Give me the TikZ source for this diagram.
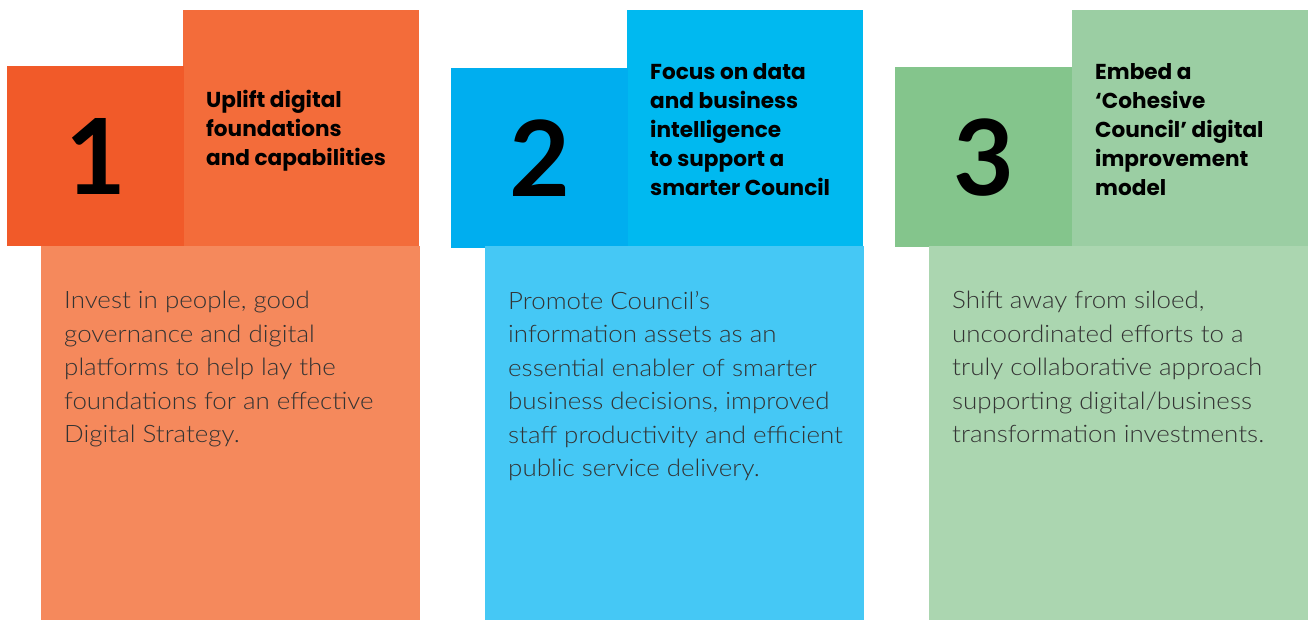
\documentclass[tikz,border=0pt]{standalone}
\usepackage{fontspec}
\setmainfont{Lato}
\newfontfamily\headfont{Poppins}
\newfontfamily\bodyfont{Lato Light}[FakeStretch=1.08]
\usetikzlibrary{positioning}

\definecolor{orangeNum}{HTML}{F15A29}
\definecolor{orangeHead}{HTML}{F36C3A}
\definecolor{orangeBody}{HTML}{F5895C}
\definecolor{blueNum}{HTML}{00AEEF}
\definecolor{blueHead}{HTML}{00B9F0}
\definecolor{blueBody}{HTML}{45C8F5}
\definecolor{greenNum}{HTML}{84C58C}
\definecolor{greenHead}{HTML}{9BCEA3}
\definecolor{greenBody}{HTML}{ABD6B0}
\definecolor{bodyText}{HTML}{333333}

\begin{document}
\begin{tikzpicture}[
            x=1pt, y=-1pt,
            numbox/.style={rectangle, anchor=north west, inner sep=0pt, minimum width=177pt, minimum height=180pt, font=\fontsize{105}{105}\selectfont\bfseries},
            headbox/.style={rectangle, anchor=north west, inner sep=0pt, minimum width=236pt, minimum height=236pt},
            bodybox/.style={rectangle, anchor=north west, inner sep=0pt, minimum width=379pt, minimum height=374pt},
            headtext/.style={anchor=west, inner sep=0pt, align=left, font=\headfont\fontsize{21.6}{29}\selectfont\bfseries},
            bodytext/.style={anchor=north west, inner sep=0pt, align=left, text=bodyText, font=\bodyfont\fontsize{24}{33.5}\selectfont}
        ]
        \useasboundingbox (0,0) rectangle (1308,620);
        % panel 1
        \node[headbox, fill=orangeHead] (head1) at (183,10) {};
        \node[numbox, fill=orangeNum] (num1) at (7,66) {1};
        \node[bodybox, fill=orangeBody] (body1) at (41,246) {};
        \node[headtext] (title1) at ([xshift=23pt, yshift=-3pt]head1.west) {Uplift digital\\foundations\\and capabilities};
        \node[bodytext] (text1) at ([xshift=23pt, yshift=-45pt]body1.north west) {Invest in people, good\\governance and digital\\platforms to help lay the\\foundations for an effective\\Digital Strategy.};
        % panel 2
        \node[headbox, fill=blueHead] (head2) at (627,10) {};
        \node[numbox, fill=blueNum] (num2) at (451,68) {2};
        \node[bodybox, fill=blueBody] (body2) at (485,246) {};
        \node[headtext] (title2) at ([xshift=23pt, yshift=-1pt]head2.west) {Focus on data\\and business\\intelligence\\to support a\\smarter Council};
        \node[bodytext] (text2) at ([xshift=23pt, yshift=-45pt]body2.north west) {Promote Council’s\\information assets as an\\essential enabler of smarter\\business decisions, improved\\staff productivity and efficient\\public service delivery.};
        % panel 3
        \node[headbox, fill=greenHead] (head3) at (1072,10) {};
        \node[numbox, fill=greenNum] (num3) at (895,67) {3};
        \node[bodybox, fill=greenBody] (body3) at (929,246) {};
        \node[headtext] (title3) at ([xshift=23pt, yshift=-1pt]head3.west) {Embed a\\‘Cohesive\\Council’ digital\\improvement\\model};
        \node[bodytext] (text3) at ([xshift=23pt, yshift=-45pt]body3.north west) {Shift away from siloed,\\uncoordinated efforts to a\\truly collaborative approach\\supporting digital/business\\transformation investments.};
        \end{tikzpicture}
\end{document}
